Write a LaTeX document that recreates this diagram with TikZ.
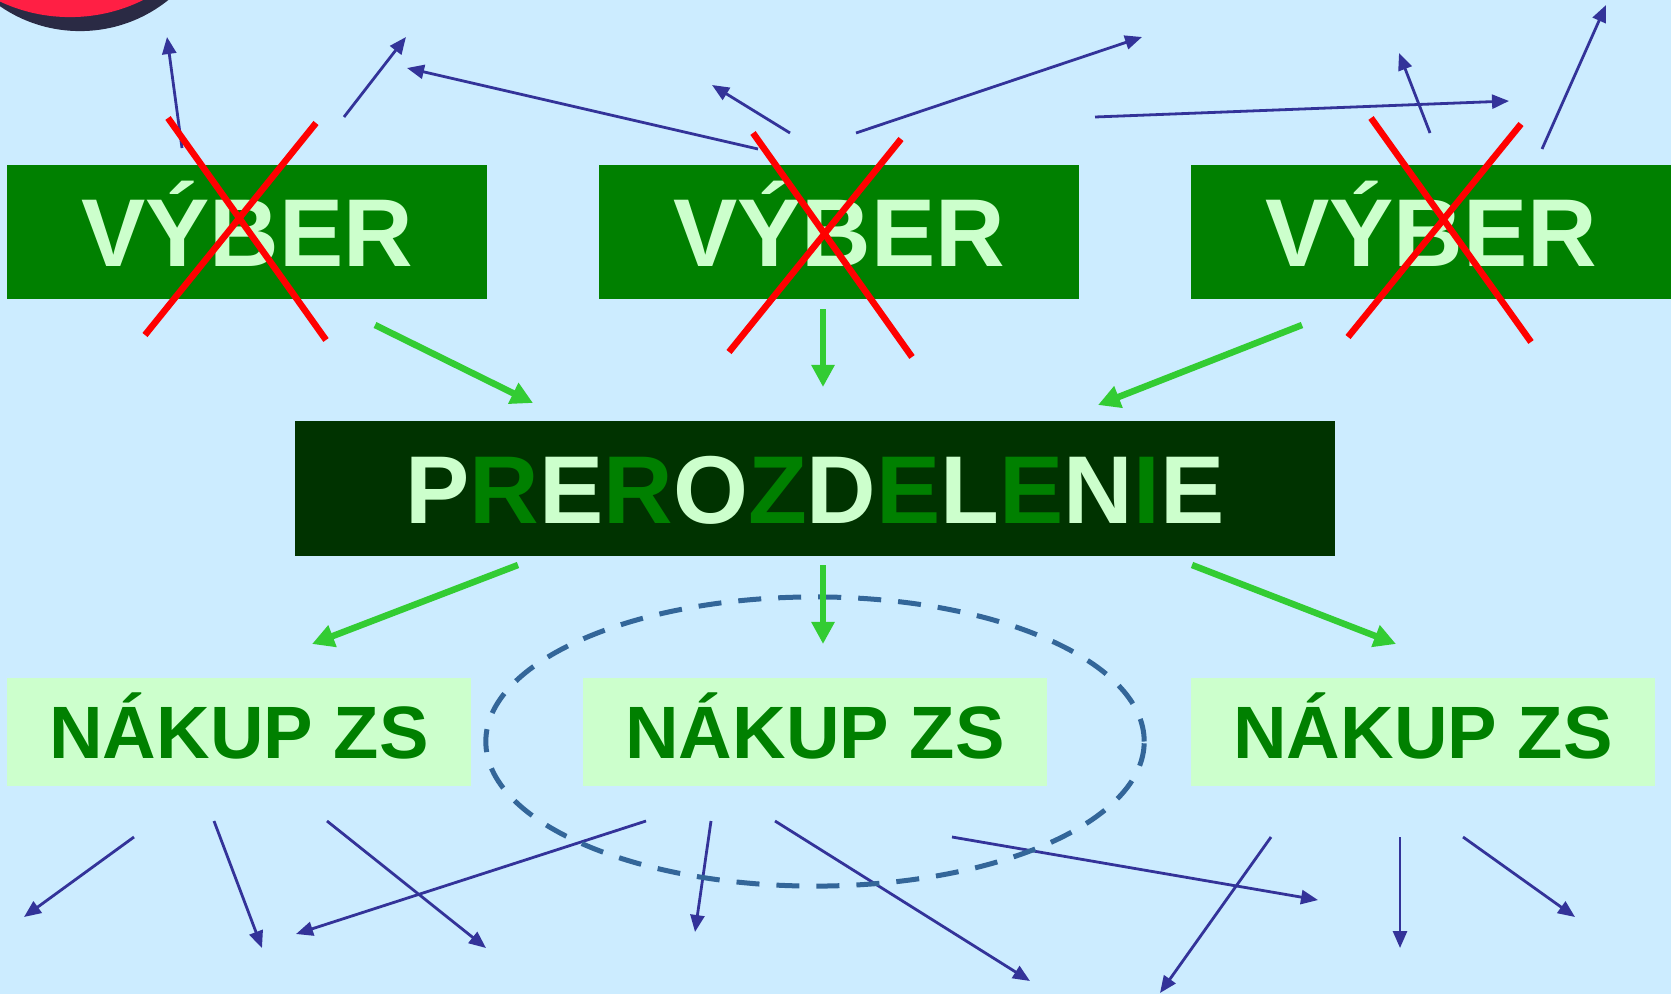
\documentclass[tikz,border=0pt]{standalone}
\usepackage{fontspec}
\setmainfont{Liberation Sans}
\usetikzlibrary{arrows.meta}
\definecolor{bgblue}{HTML}{CCECFF}
\definecolor{boxgreen}{HTML}{008000}
\definecolor{paleg}{HTML}{CCFFCC}
\definecolor{darkg}{HTML}{003300}
\definecolor{arrgreen}{HTML}{33CC33}
\definecolor{arrblue}{HTML}{333399}
\definecolor{ringblue}{HTML}{336699}
\definecolor{ballred}{HTML}{FF1F44}
\definecolor{balldark}{HTML}{2A2A44}
\newcommand\vybfont{\fontsize{27.4}{30}\selectfont\bfseries}
\newcommand\nakfont{\fontsize{21.1}{24}\selectfont\bfseries}
\newcommand\lgr[1]{\textcolor{paleg}{#1}}
\newcommand\dgr[1]{\textcolor{boxgreen}{#1}}
\begin{document}
\begin{tikzpicture}[x=0.01cm, y=-0.01cm,
  vyber/.style={fill=boxgreen, text=paleg, inner sep=0pt, minimum width=4.8cm, minimum height=1.34cm, font=\vybfont, text height=0.69cm, text depth=0pt},
  prerbox/.style={fill=darkg, inner sep=0pt, minimum width=10.4cm, minimum height=1.35cm, font=\vybfont, text height=0.69cm, text depth=0pt},
  nakup/.style={fill=paleg, text=boxgreen, inner sep=0pt, minimum width=4.64cm, minimum height=1.08cm, font=\nakfont, text height=0.53cm, text depth=0pt},
  garrow/.style={arrgreen, line width=0.065cm, -{Triangle[length=0.22cm, width=0.22cm]}},
  barrow/.style={arrblue, line width=0.028cm, -{Triangle[length=0.17cm, width=0.14cm]}},
  cross/.style={red, line width=0.065cm},
  ring/.style={ringblue, line width=0.05cm, dash pattern=on 0.23cm off 0.17cm}]
\fill[bgblue] (0,0) rectangle (1671,994);
\useasboundingbox (0,0) rectangle (1671,994);
% ball in the corner
\fill[balldark] (80,-110) circle [radius=1.41cm];
\fill[ballred] (70,-148) circle [radius=1.65cm];
% arrows at the top
\coordinate (t1a) at (182,148);
\coordinate (t1b) at (167,37);
\coordinate (t2a) at (344,117);
\coordinate (t2b) at (406,37);
\coordinate (t3a) at (758,149);
\coordinate (t3b) at (407,68);
\coordinate (t4a) at (790,133);
\coordinate (t4b) at (712,85);
\coordinate (t5a) at (856,133);
\coordinate (t5b) at (1142,37);
\coordinate (t6a) at (1095,117);
\coordinate (t6b) at (1509,101);
\coordinate (t7a) at (1430,133);
\coordinate (t7b) at (1399,53);
\coordinate (t8a) at (1542,149);
\coordinate (t8b) at (1606,5);
\draw[barrow] (t1a) -- (t1b);
\draw[barrow] (t2a) -- (t2b);
\draw[barrow] (t3a) -- (t3b);
\draw[barrow] (t4a) -- (t4b);
\draw[barrow] (t5a) -- (t5b);
\draw[barrow] (t6a) -- (t6b);
\draw[barrow] (t7a) -- (t7b);
\draw[barrow] (t8a) -- (t8b);
% boxes
\node[vyber] (vyb1) at (247,232) {VÝBER};
\node[vyber] (vyb2) at (839,232) {VÝBER};
\node[vyber] (vyb3) at (1431,232) {VÝBER};
\node[prerbox] (prer) at (815,488.5) {\lgr{P}\dgr{R}\lgr{E}\dgr{R}\lgr{O}\dgr{Z}\lgr{D}\dgr{E}\lgr{L}\dgr{E}\lgr{N}\dgr{I}\lgr{E}};
\node[nakup] (nak1) at (239,732) {NÁKUP ZS};
\node[nakup] (nak2) at (815,732) {NÁKUP ZS};
\node[nakup] (nak3) at (1423,732) {NÁKUP ZS};
% crossed out
\draw[cross] (168,118) -- (326,340);
\draw[cross] (316,123) -- (145,335);
\draw[cross] (753,133) -- (912,357);
\draw[cross] (901,139) -- (729,352);
\draw[cross] (1371,118) -- (1531,342);
\draw[cross] (1521,124) -- (1348,337);
% arrows at the bottom
\coordinate (b1a) at (134,837);
\coordinate (b1b) at (24,917);
\coordinate (b2a) at (214,821);
\coordinate (b2b) at (262,948);
\coordinate (b3a) at (327,821);
\coordinate (b3b) at (486,948);
\coordinate (b4a) at (646,821);
\coordinate (b4b) at (296,934);
\coordinate (b5a) at (711,821);
\coordinate (b5b) at (695,932);
\coordinate (b6a) at (775,821);
\coordinate (b6b) at (1030,981);
\coordinate (b7a) at (952,837);
\coordinate (b7b) at (1318,900);
\coordinate (b8a) at (1271,837);
\coordinate (b8b) at (1160,993);
\coordinate (b9a) at (1400,837);
\coordinate (b9b) at (1400,948);
\coordinate (b10a) at (1463,837);
\coordinate (b10b) at (1575,917);
\draw[barrow] (b1a) -- (b1b);
\draw[barrow] (b2a) -- (b2b);
\draw[barrow] (b3a) -- (b3b);
\draw[barrow] (b4a) -- (b4b);
\draw[barrow] (b5a) -- (b5b);
\draw[barrow] (b6a) -- (b6b);
\draw[barrow] (b7a) -- (b7b);
\draw[barrow] (b8a) -- (b8b);
\draw[barrow] (b9a) -- (b9b);
\draw[barrow] (b10a) -- (b10b);
% dashed ring
\draw[ring] (815,741.5) ellipse [x radius=3.29cm, y radius=1.445cm];
% green arrows
\coordinate (g1a) at (375,325);
\coordinate (g1b) at (533,403);
\coordinate (g2a) at (823,309);
\coordinate (g2b) at (823,387);
\coordinate (g3a) at (1302,325);
\coordinate (g3b) at (1098,405);
\coordinate (g4a) at (518,565);
\coordinate (g4b) at (312,644);
\coordinate (g5a) at (823,565);
\coordinate (g5b) at (823,644);
\coordinate (g6a) at (1192,565);
\coordinate (g6b) at (1396,644);
\draw[garrow] (g1a) -- (g1b);
\draw[garrow] (g2a) -- (g2b);
\draw[garrow] (g3a) -- (g3b);
\draw[garrow] (g4a) -- (g4b);
\draw[garrow] (g5a) -- (g5b);
\draw[garrow] (g6a) -- (g6b);
\end{tikzpicture}
\end{document}
